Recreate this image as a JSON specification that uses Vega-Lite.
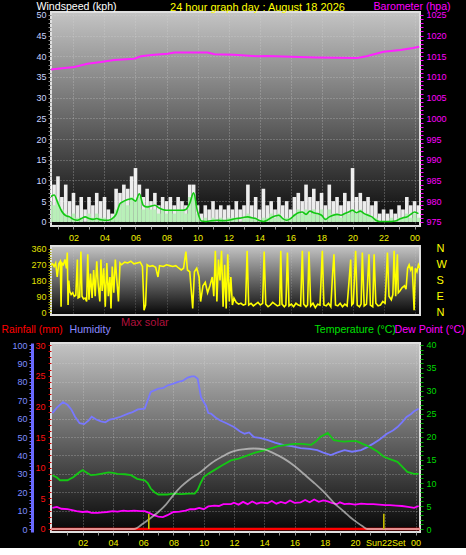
{
"$schema": "https://vega.github.io/schema/vega-lite/v6.json",
"background": "#000000",
"padding": {"left": 0, "top": 0, "right": 0, "bottom": 0},
"config": {
  "font": "Liberation Sans",
  "view": {"fill": {"gradient": "linear", "x1": 0, "y1": 0, "x2": 0, "y2": 1, "stops": [{"offset": 0, "color": "#c4c4c4"}, {"offset": 0.5, "color": "#666666"}, {"offset": 1, "color": "#060606"}]}, "stroke": "#e0e0e0", "strokeWidth": 2},
  "axis": {"labelFont": "Liberation Sans", "labelFontSize": 9, "titleFont": "Liberation Sans", "titleFontWeight": "normal", "titleFontSize": 11, "domain": false, "gridColor": "#d8d8d8", "gridDash": [1, 2], "labelOverlap": false, "labelFlush": false},
  "title": {"font": "Liberation Sans", "fontWeight": "normal"}
},
"datasets": {
  "wind": [
    {"h":0.5,"g":10,"a":5,"l":6},{"h":0.75,"g":9,"a":4,"l":6.5},{"h":1.0,"g":11,"a":5,"l":4.5},{"h":1.25,"g":6,"a":3,"l":2.5},
    {"h":1.5,"g":9,"a":2,"l":1.5},{"h":1.75,"g":5,"a":1,"l":1.2},{"h":2.0,"g":7,"a":2,"l":0.6},{"h":2.25,"g":4,"a":1,"l":0.4},
    {"h":2.5,"g":6,"a":1,"l":0.8},{"h":2.75,"g":3,"a":0,"l":1.2},{"h":3.0,"g":6,"a":2,"l":0.8},{"h":3.25,"g":4,"a":1,"l":0.6},
    {"h":3.5,"g":7,"a":2,"l":0.8},{"h":3.75,"g":5,"a":1,"l":0.5},{"h":4.0,"g":6,"a":1,"l":0.4},{"h":4.25,"g":3,"a":0,"l":0.4},
    {"h":4.5,"g":2,"a":1,"l":0.8},{"h":4.75,"g":8,"a":3,"l":1.8},{"h":5.0,"g":7,"a":4,"l":4.4},{"h":5.25,"g":9,"a":5,"l":5.0},
    {"h":5.5,"g":8,"a":4,"l":5.4},{"h":5.75,"g":11,"a":6,"l":5.6},{"h":6.0,"g":13,"a":5,"l":5.0},{"h":6.25,"g":9,"a":6,"l":6.8},
    {"h":6.5,"g":6,"a":3,"l":4.0},{"h":6.75,"g":8,"a":4,"l":3.6},{"h":7.0,"g":5,"a":3,"l":3.8},{"h":7.25,"g":7,"a":3,"l":4.0},
    {"h":7.5,"g":4,"a":2,"l":3.4},{"h":7.75,"g":6,"a":3,"l":3.0},{"h":8.0,"g":5,"a":2,"l":2.8},{"h":8.25,"g":6,"a":3,"l":2.8},
    {"h":8.5,"g":4,"a":2,"l":2.8},{"h":8.75,"g":6,"a":3,"l":2.8},{"h":9.0,"g":5,"a":3,"l":2.8},{"h":9.25,"g":4,"a":2,"l":3.0},
    {"h":9.5,"g":9,"a":6,"l":4.5},{"h":9.75,"g":9,"a":7,"l":7.0},{"h":10.0,"g":4,"a":2,"l":2.5},{"h":10.25,"g":2,"a":0,"l":0.2},
    {"h":10.5,"g":4,"a":1,"l":0.1},{"h":10.75,"g":3,"a":0,"l":0.2},{"h":11.0,"g":5,"a":1,"l":0.3},{"h":11.25,"g":3,"a":0,"l":0.4},
    {"h":11.5,"g":4,"a":1,"l":0.3},{"h":11.75,"g":3,"a":0,"l":0.3},{"h":12.0,"g":4,"a":1,"l":0.4},{"h":12.25,"g":3,"a":1,"l":0.6},
    {"h":12.5,"g":5,"a":1,"l":0.8},{"h":12.75,"g":3,"a":0,"l":0.9},{"h":13.0,"g":4,"a":1,"l":1.1},{"h":13.25,"g":9,"a":2,"l":1.2},
    {"h":13.5,"g":4,"a":1,"l":1.0},{"h":13.75,"g":6,"a":1,"l":0.8},{"h":14.0,"g":3,"a":0,"l":0.3},{"h":14.25,"g":8,"a":1,"l":0.1},
    {"h":14.5,"g":4,"a":1,"l":0.4},{"h":14.75,"g":5,"a":2,"l":1.0},{"h":15.0,"g":3,"a":1,"l":1.4},{"h":15.25,"g":6,"a":2,"l":1.6},
    {"h":15.5,"g":4,"a":1,"l":0.8},{"h":15.75,"g":5,"a":1,"l":0.4},{"h":16.0,"g":3,"a":1,"l":0.8},{"h":16.25,"g":6,"a":2,"l":1.6},
    {"h":16.5,"g":7,"a":3,"l":2.2},{"h":16.75,"g":5,"a":2,"l":2.4},{"h":17.0,"g":9,"a":3,"l":1.8},{"h":17.25,"g":6,"a":2,"l":2.6},
    {"h":17.5,"g":8,"a":3,"l":2.2},{"h":17.75,"g":5,"a":2,"l":2.0},{"h":18.0,"g":7,"a":3,"l":1.6},{"h":18.25,"g":4,"a":1,"l":0.6},
    {"h":18.5,"g":9,"a":3,"l":1.2},{"h":18.75,"g":5,"a":2,"l":1.6},{"h":19.0,"g":6,"a":2,"l":1.8},{"h":19.25,"g":4,"a":1,"l":1.6},
    {"h":19.5,"g":7,"a":2,"l":2.0},{"h":19.75,"g":5,"a":2,"l":2.4},{"h":20.0,"g":13,"a":3,"l":2.8},{"h":20.25,"g":6,"a":2,"l":2.2},
    {"h":20.5,"g":7,"a":3,"l":2.6},{"h":20.75,"g":5,"a":2,"l":2.0},{"h":21.0,"g":6,"a":2,"l":1.6},{"h":21.25,"g":4,"a":1,"l":1.2},
    {"h":21.5,"g":5,"a":1,"l":0.4},{"h":21.75,"g":2,"a":0,"l":0.1},{"h":22.0,"g":3,"a":0,"l":0.1},{"h":22.25,"g":2,"a":0,"l":0.1},
    {"h":22.5,"g":3,"a":1,"l":0.1},{"h":22.75,"g":2,"a":0,"l":0.2},{"h":23.0,"g":4,"a":1,"l":0.6},{"h":23.25,"g":3,"a":1,"l":1.0},
    {"h":23.5,"g":6,"a":2,"l":1.2},{"h":23.75,"g":4,"a":1,"l":1.8},{"h":24.0,"g":5,"a":2,"l":2.4},{"h":24.25,"g":4,"a":1,"l":2.0}
  ],
  "baro": [
    {"h":0.12,"p":1011.6},{"h":0.98,"p":1012.0},{"h":2.05,"p":1012.4},{"h":2.9,"p":1013.2},{"h":3.77,"p":1013.6},{"h":4.63,"p":1014.1},
    {"h":5.92,"p":1014.4},{"h":6.35,"p":1015.0},{"h":7.2,"p":1015.4},{"h":8.08,"p":1015.6},{"h":8.5,"p":1015.9},{"h":10.65,"p":1015.9},
    {"h":11.09,"p":1015.5},{"h":12.35,"p":1015.4},{"h":13.86,"p":1015.0},{"h":14.5,"p":1015.1},{"h":16.0,"p":1014.9},{"h":17.7,"p":1014.7},
    {"h":20.3,"p":1014.6},{"h":20.9,"p":1015.0},{"h":22.0,"p":1016.1},{"h":23.1,"p":1016.5},{"h":23.9,"p":1017.0},{"h":24.3,"p":1017.3}
  ],
  "dir": [
    {"h":0.55,"d":270},{"h":0.65,"d":275},{"h":0.75,"d":260},{"h":0.85,"d":280},{"h":0.95,"d":200},{"h":1.05,"d":275},{"h":1.15,"d":290},
    {"h":1.2,"d":30},{"h":1.25,"d":280},{"h":1.35,"d":270},{"h":1.45,"d":300},{"h":1.55,"d":250},{"h":1.6,"d":340},{"h":1.65,"d":40},
    {"h":1.7,"d":180},{"h":1.75,"d":120},{"h":1.85,"d":100},{"h":1.95,"d":110},{"h":2.05,"d":90},{"h":2.15,"d":95},{"h":2.25,"d":300},
    {"h":2.3,"d":80},{"h":2.4,"d":85},{"h":2.48,"d":345},{"h":2.55,"d":90},{"h":2.65,"d":75},{"h":2.75,"d":80},{"h":2.85,"d":60},
    {"h":2.92,"d":330},{"h":3.0,"d":70},{"h":3.1,"d":220},{"h":3.2,"d":80},{"h":3.3,"d":240},{"h":3.4,"d":90},{"h":3.5,"d":290},
    {"h":3.6,"d":150},{"h":3.7,"d":60},{"h":3.77,"d":300},{"h":3.85,"d":120},{"h":3.95,"d":250},{"h":4.05,"d":30},{"h":4.15,"d":280},
    {"h":4.25,"d":90},{"h":4.35,"d":200},{"h":4.42,"d":20},{"h":4.5,"d":260},{"h":4.6,"d":110},{"h":4.7,"d":300},{"h":4.8,"d":180},
    {"h":4.9,"d":60},{"h":5.0,"d":280},{"h":5.1,"d":270},{"h":5.3,"d":285},{"h":5.5,"d":280},{"h":5.7,"d":290},{"h":5.9,"d":275},
    {"h":6.1,"d":280},{"h":6.3,"d":285},{"h":6.45,"d":260},{"h":6.55,"d":10},{"h":6.65,"d":40},{"h":6.75,"d":270},{"h":6.9,"d":260},
    {"h":7.1,"d":265},{"h":7.3,"d":255},{"h":7.45,"d":200},{"h":7.55,"d":265},{"h":7.8,"d":260},{"h":8.0,"d":270},{"h":8.2,"d":265},
    {"h":8.4,"d":260},{"h":8.6,"d":265},{"h":8.8,"d":250},{"h":8.95,"d":240},{"h":9.1,"d":250},{"h":9.25,"d":345},{"h":9.35,"d":240},
    {"h":9.5,"d":230},{"h":9.6,"d":120},{"h":9.69,"d":20},{"h":9.8,"d":230},{"h":9.95,"d":250},{"h":10.1,"d":200},{"h":10.2,"d":60},
    {"h":10.35,"d":150},{"h":10.5,"d":170},{"h":10.65,"d":110},{"h":10.8,"d":150},{"h":10.95,"d":200},{"h":11.05,"d":90},{"h":11.15,"d":350},
    {"h":11.25,"d":60},{"h":11.35,"d":300},{"h":11.45,"d":180},{"h":11.55,"d":350},{"h":11.65,"d":30},{"h":11.75,"d":270},{"h":11.85,"d":20},
    {"h":11.95,"d":330},{"h":12.05,"d":60},{"h":12.15,"d":200},{"h":12.25,"d":40},{"h":12.35,"d":80},{"h":12.5,"d":55},{"h":12.65,"d":45},
    {"h":12.8,"d":50},{"h":12.95,"d":40},{"h":13.1,"d":45},{"h":13.2,"d":350},{"h":13.3,"d":40},{"h":13.45,"d":50},{"h":13.6,"d":35},
    {"h":13.75,"d":45},{"h":13.9,"d":55},{"h":14.05,"d":40},{"h":14.2,"d":50},{"h":14.3,"d":345},{"h":14.4,"d":45},{"h":14.55,"d":30},
    {"h":14.7,"d":40},{"h":14.85,"d":55},{"h":15.0,"d":45},{"h":15.15,"d":35},{"h":15.3,"d":40},{"h":15.37,"d":350},{"h":15.45,"d":45},
    {"h":15.6,"d":30},{"h":15.7,"d":40},{"h":15.8,"d":340},{"h":15.9,"d":35},{"h":16.05,"d":45},{"h":16.2,"d":30},{"h":16.35,"d":50},
    {"h":16.5,"d":40},{"h":16.65,"d":35},{"h":16.76,"d":350},{"h":16.85,"d":45},{"h":17.0,"d":30},{"h":17.1,"d":40},{"h":17.19,"d":345},
    {"h":17.3,"d":35},{"h":17.45,"d":50},{"h":17.6,"d":25},{"h":17.75,"d":45},{"h":17.9,"d":40},{"h":18.05,"d":350},{"h":18.15,"d":40},
    {"h":18.3,"d":35},{"h":18.45,"d":50},{"h":18.6,"d":30},{"h":18.7,"d":200},{"h":18.8,"d":330},{"h":18.9,"d":40},{"h":19.05,"d":35},
    {"h":19.2,"d":50},{"h":19.35,"d":30},{"h":19.5,"d":45},{"h":19.65,"d":35},{"h":19.75,"d":150},{"h":19.88,"d":300},{"h":19.95,"d":40},
    {"h":20.05,"d":50},{"h":20.2,"d":350},{"h":20.3,"d":40},{"h":20.45,"d":30},{"h":20.55,"d":45},{"h":20.63,"d":340},{"h":20.75,"d":35},
    {"h":20.9,"d":45},{"h":21.06,"d":330},{"h":21.15,"d":40},{"h":21.3,"d":30},{"h":21.39,"d":330},{"h":21.5,"d":50},{"h":21.65,"d":35},
    {"h":21.8,"d":40},{"h":21.95,"d":60},{"h":22.1,"d":50},{"h":22.25,"d":340},{"h":22.35,"d":90},{"h":22.5,"d":70},{"h":22.6,"d":100},
    {"h":22.68,"d":350},{"h":22.78,"d":90},{"h":22.89,"d":330},{"h":22.95,"d":110},{"h":23.05,"d":120},{"h":23.2,"d":140},{"h":23.35,"d":150},
    {"h":23.45,"d":130},{"h":23.55,"d":250},{"h":23.65,"d":270},{"h":23.75,"d":240},{"h":23.85,"d":260},{"h":23.97,"d":10},{"h":24.05,"d":250},
    {"h":24.15,"d":230},{"h":24.25,"d":270},{"h":24.35,"d":250}
  ],
  "hum": [
    {"h":0.0,"v":63},{"h":0.3,"v":66},{"h":0.7,"v":69},{"h":1.0,"v":67.5},{"h":1.25,"v":65},{"h":1.5,"v":61},{"h":1.8,"v":57.5},
    {"h":2.1,"v":57},{"h":2.4,"v":59},{"h":2.6,"v":61},{"h":2.9,"v":59.5},{"h":3.2,"v":58.5},{"h":3.5,"v":58},{"h":3.8,"v":59.5},
    {"h":4.1,"v":60},{"h":4.5,"v":61},{"h":5.0,"v":62.7},{"h":5.3,"v":63.5},{"h":5.65,"v":65},{"h":6.1,"v":65.4},{"h":6.3,"v":70},
    {"h":6.5,"v":74.5},{"h":7.0,"v":76.3},{"h":7.3,"v":76.5},{"h":7.6,"v":78},{"h":8.0,"v":79},{"h":8.3,"v":80},{"h":8.6,"v":80.5},
    {"h":8.94,"v":82.3},{"h":9.2,"v":83},{"h":9.4,"v":83},{"h":9.6,"v":81.7},{"h":9.82,"v":71.7},{"h":10.0,"v":69},{"h":10.15,"v":67},
    {"h":10.3,"v":63},{"h":10.48,"v":62.7},{"h":10.8,"v":60.5},{"h":11.1,"v":59},{"h":11.5,"v":57.5},{"h":12.0,"v":55.4},{"h":12.4,"v":53},
    {"h":12.7,"v":51.8},{"h":13.0,"v":52.5},{"h":13.3,"v":50},{"h":13.7,"v":49.5},{"h":14.2,"v":48.4},{"h":14.7,"v":47},{"h":15.3,"v":45.6},
    {"h":15.8,"v":45},{"h":16.4,"v":44},{"h":17.0,"v":43.5},{"h":17.5,"v":42.9},{"h":17.9,"v":41.5},{"h":18.4,"v":40.2},{"h":18.8,"v":41.5},
    {"h":19.3,"v":42.9},{"h":19.8,"v":42},{"h":20.4,"v":42.9},{"h":20.8,"v":44.5},{"h":21.2,"v":46.4},{"h":21.6,"v":48.5},{"h":22.1,"v":51.8},
    {"h":22.5,"v":53.5},{"h":22.8,"v":55.4},{"h":23.1,"v":58},{"h":23.4,"v":60.9},{"h":23.7,"v":62.5},{"h":23.9,"v":64},{"h":24.2,"v":65.4}
  ],
  "temp": [
    {"h":0.0,"v":11.7},{"h":0.3,"v":11.2},{"h":0.5,"v":10.6},{"h":1.0,"v":10.6},{"h":1.4,"v":11.3},{"h":1.8,"v":12.4},{"h":2.0,"v":12.8},
    {"h":2.2,"v":12.4},{"h":2.55,"v":11.7},{"h":2.9,"v":11.8},{"h":3.2,"v":12.0},{"h":3.7,"v":12.3},{"h":4.0,"v":12.2},{"h":4.3,"v":12.0},
    {"h":4.8,"v":11.9},{"h":5.2,"v":11.7},{"h":5.6,"v":10.9},{"h":6.1,"v":10.6},{"h":6.3,"v":10.0},{"h":6.5,"v":8.8},{"h":6.75,"v":8.0},
    {"h":7.0,"v":7.5},{"h":7.6,"v":7.5},{"h":8.0,"v":7.7},{"h":8.5,"v":7.6},{"h":9.0,"v":7.7},{"h":9.4,"v":7.7},{"h":9.6,"v":8.5},
    {"h":9.8,"v":10.0},{"h":10.0,"v":11.3},{"h":10.3,"v":12.0},{"h":10.7,"v":12.8},{"h":11.2,"v":13.8},{"h":11.8,"v":14.9},{"h":12.3,"v":15.3},
    {"h":12.9,"v":16.0},{"h":13.4,"v":16.6},{"h":14.0,"v":17.1},{"h":14.5,"v":17.6},{"h":14.9,"v":18.0},{"h":15.5,"v":18.3},{"h":16.0,"v":18.5},
    {"h":16.5,"v":18.5},{"h":17.1,"v":18.3},{"h":17.4,"v":19.0},{"h":17.7,"v":20.0},{"h":18.2,"v":20.9},{"h":18.6,"v":19.3},{"h":19.0,"v":19.1},
    {"h":19.25,"v":19.0},{"h":19.7,"v":19.1},{"h":20.1,"v":19.1},{"h":20.5,"v":18.5},{"h":21.0,"v":17.8},{"h":21.5,"v":16.8},{"h":21.9,"v":15.7},
    {"h":22.3,"v":15.2},{"h":22.8,"v":14.6},{"h":23.1,"v":13.6},{"h":23.45,"v":12.4},{"h":23.9,"v":12.0},{"h":24.2,"v":12.0}
  ],
  "dew": [
    {"h":0.0,"v":4.6},{"h":0.3,"v":4.8},{"h":0.6,"v":4.4},{"h":1.0,"v":4.3},{"h":1.3,"v":4.1},{"h":1.6,"v":3.9},{"h":2.0,"v":3.7},
    {"h":2.3,"v":3.8},{"h":2.6,"v":3.5},{"h":3.0,"v":3.5},{"h":3.3,"v":3.6},{"h":3.6,"v":3.7},{"h":4.0,"v":3.9},{"h":4.3,"v":3.8},
    {"h":4.7,"v":4.0},{"h":5.0,"v":3.9},{"h":5.4,"v":4.0},{"h":5.8,"v":3.9},{"h":6.1,"v":3.9},{"h":6.4,"v":3.5},{"h":6.7,"v":3.0},
    {"h":7.0,"v":2.7},{"h":7.3,"v":2.6},{"h":7.6,"v":3.0},{"h":8.0,"v":3.7},{"h":8.4,"v":3.8},{"h":8.8,"v":4.0},{"h":9.1,"v":4.3},
    {"h":9.4,"v":4.3},{"h":9.7,"v":4.6},{"h":10.0,"v":4.3},{"h":10.3,"v":4.9},{"h":10.7,"v":5.1},{"h":11.0,"v":5.0},{"h":11.3,"v":5.4},
    {"h":11.8,"v":5.4},{"h":12.0,"v":5.7},{"h":12.3,"v":5.3},{"h":12.6,"v":5.9},{"h":12.9,"v":5.4},{"h":13.2,"v":6.0},{"h":13.5,"v":5.5},
    {"h":13.8,"v":5.8},{"h":14.2,"v":5.6},{"h":14.5,"v":6.1},{"h":14.8,"v":5.5},{"h":15.1,"v":5.9},{"h":15.4,"v":5.6},{"h":15.7,"v":6.2},
    {"h":16.0,"v":5.7},{"h":16.4,"v":5.8},{"h":16.7,"v":6.3},{"h":17.0,"v":5.8},{"h":17.3,"v":6.4},{"h":17.6,"v":5.9},{"h":17.9,"v":6.2},
    {"h":18.2,"v":6.0},{"h":18.5,"v":5.6},{"h":18.8,"v":5.4},{"h":19.0,"v":5.8},{"h":19.3,"v":5.4},{"h":19.6,"v":5.5},{"h":20.0,"v":5.3},
    {"h":20.4,"v":5.5},{"h":20.8,"v":5.4},{"h":21.2,"v":5.4},{"h":21.6,"v":5.3},{"h":22.0,"v":5.2},{"h":22.3,"v":5.2},{"h":22.7,"v":5.1},
    {"h":23.1,"v":5.0},{"h":23.5,"v":4.8},{"h":23.9,"v":4.6},{"h":24.2,"v":5.0}
  ],
  "solar": [
    {"h":-0.1,"v":0},{"h":5.4,"v":0},{"h":6.0,"v":1.2},{"h":6.5,"v":2.4},{"h":7.0,"v":3.7},{"h":7.5,"v":5.3},{"h":8.05,"v":7.6},
    {"h":8.5,"v":9.2},{"h":9.0,"v":10.6},{"h":9.8,"v":12.4},{"h":10.5,"v":14.3},{"h":11.2,"v":15.7},{"h":11.8,"v":16.7},{"h":12.6,"v":17.3},
    {"h":13.3,"v":17.5},{"h":14.0,"v":17.3},{"h":14.6,"v":16.5},{"h":15.3,"v":15.3},{"h":16.0,"v":13.7},{"h":16.6,"v":12.0},{"h":17.3,"v":10.0},
    {"h":17.95,"v":8.0},{"h":18.6,"v":5.7},{"h":19.3,"v":3.7},{"h":19.7,"v":2.5},{"h":20.1,"v":1.5},{"h":20.5,"v":0.6},{"h":20.8,"v":0},
    {"h":24.3,"v":0}
  ],
  "rain": [{"h":-0.1,"v":0},{"h":24.3,"v":0}],
  "sun": [{"h":6.37,"v":3.3},{"h":21.9,"v":3.3}]
},
"vconcat": [
  {
    "width": 369, "height": 214,
    "title": {"text": "24 hour graph day : August 18 2026", "color": "#ffff00", "fontSize": 11, "anchor": "middle", "frame": "group", "dx": 22, "dy": 16},
    "encoding": {"x": {"field": "h", "type": "quantitative", "scale": {"domain": [0.55, 24.35], "nice": false, "zero": false},
      "axis": {"values": [1,2,3,4,5,6,7,8,9,10,11,12,13,14,15,16,17,18,19,20,21,22,23,24],
        "labelExpr": "datum.value % 2 == 0 ? (datum.value == 24 ? '00' : (datum.value < 10 ? '0' + datum.value : '' + datum.value)) : ''",
        "labelColor": "#f0f000", "tickColor": "#9a9a9a", "tickSize": 3, "labelPadding": 4, "title": null,
        "grid": true, "gridOpacity": {"condition": {"test": "datum.value % 2 == 0", "value": 0.5}, "value": 0}}}},
    "layer": [
      {"data": {"name": "wind"},
       "mark": {"type": "rule", "color": "#ffffff", "strokeWidth": 3.6, "opacity": 0.92, "clip": true},
       "encoding": {"y": {"field": "g", "type": "quantitative", "scale": {"domain": [-1, 50.7], "nice": false, "zero": false},
         "axis": {"orient": "left", "values": [0,1,2,3,4,5,6,7,8,9,10,11,12,13,14,15,16,17,18,19,20,21,22,23,24,25,26,27,28,29,30,31,32,33,34,35,36,37,38,39,40,41,42,43,44,45,46,47,48,49,50],
           "labelExpr": "datum.value % 5 == 0 ? datum.label : ''", "labelColor": "#c8d4ff", "tickColor": "#8c8c8c", "tickSize": 3, "labelPadding": 2,
           "grid": true, "gridOpacity": {"condition": {"test": "datum.value % 5 == 0 && datum.value > 0", "value": 0.5}, "value": 0},
           "title": "Windspeed (kph)", "titleColor": "#ffffff", "titleFontSize": 10.6, "titleAngle": 0, "titleAlign": "left", "titleBaseline": "alphabetic", "titleX": -15, "titleY": -3}},
         "y2": {"datum": 0}}},
      {"data": {"name": "wind"},
       "mark": {"type": "rule", "color": "#b8f0b8", "strokeWidth": 3.6, "clip": true},
       "encoding": {"y": {"field": "a", "type": "quantitative", "scale": {"domain": [-1, 50.7], "nice": false, "zero": false}, "axis": null}, "y2": {"datum": 0}}},
      {"data": {"name": "wind"},
       "mark": {"type": "line", "color": "#12c812", "strokeWidth": 1.6, "interpolate": "monotone", "clip": true},
       "encoding": {"y": {"field": "l", "type": "quantitative", "scale": {"domain": [-1, 50.7], "nice": false, "zero": false}, "axis": null}}},
      {"data": {"name": "baro"},
       "mark": {"type": "line", "color": "#ff22ff", "strokeWidth": 2, "clip": true},
       "encoding": {
          "y": {"field": "p", "type": "quantitative", "scale": {"domain": [974, 1025.7], "nice": false, "zero": false},
            "axis": {"orient": "right", "format": "d",
              "values": [975,976,977,978,979,980,981,982,983,984,985,986,987,988,989,990,991,992,993,994,995,996,997,998,999,1000,1001,1002,1003,1004,1005,1006,1007,1008,1009,1010,1011,1012,1013,1014,1015,1016,1017,1018,1019,1020,1021,1022,1023,1024,1025],
              "labelExpr": "datum.value % 5 == 0 ? datum.label : ''", "labelColor": "#ff00ff", "tickColor": "#ff00ff", "tickSize": 3, "labelPadding": 3,
              "grid": false, "title": "Barometer (hpa)", "titleColor": "#ff00ff", "titleFontSize": 10.6, "titleAngle": 0, "titleAlign": "left", "titleBaseline": "alphabetic", "titleX": -47, "titleY": -3}}
       }}
    ],
    "resolve": {"scale": {"y": "independent"}, "axis": {"y": "independent"}}
  },
  {
    "vconcat": [
      {
        "width": 369, "height": 69,
        "data": {"name": "dir"},
        "encoding": {"x": {"field": "h", "type": "quantitative", "scale": {"domain": [0.55, 24.35], "nice": false, "zero": false},
          "axis": {"values": [2,4,6,8,10,12,14,16,18,20,22,24], "labels": false, "ticks": false, "title": null, "grid": true, "gridOpacity": 0.35}}},
        "layer": [
          {"mark": {"type": "line", "color": "#ffff00", "strokeWidth": 1.6, "clip": true},
           "encoding": {"y": {"field": "d", "type": "quantitative", "scale": {"domain": [-17, 377], "nice": false, "zero": false},
             "axis": {"orient": "left", "values": [0,15,30,45,60,75,90,105,120,135,150,165,180,195,210,225,240,255,270,285,300,315,330,345,360],
               "labelExpr": "datum.value % 90 == 0 ? datum.label : ''", "labelColor": "#e0e000", "tickColor": "#a0a000", "tickSize": 3, "labelPadding": 2,
               "title": null, "grid": false}}}},
          {"mark": {"type": "line", "strokeOpacity": 0, "color": "#000000"},
           "encoding": {"y": {"field": "d", "type": "quantitative", "scale": {"domain": [-17, 377], "nice": false, "zero": false},
             "axis": {"orient": "right", "values": [0,90,180,270,360],
               "labelExpr": "datum.value == 90 ? 'E' : (datum.value == 180 ? 'S' : (datum.value == 270 ? 'W' : 'N'))",
               "ticks": false, "labelColor": "#ffff00", "labelFontSize": 11, "labelPadding": 16, "labelAlign": "left", "title": null, "grid": false}}}}
        ],
        "resolve": {"scale": {"y": "independent"}, "axis": {"y": "independent"}}
      },
      {
        "width": 369, "height": 189,
        "title": {"text": "Max solar", "color": "#b0103c", "fontSize": 11, "anchor": "start", "frame": "group", "dx": 70, "dy": 8},
        "encoding": {"x": {"field": "h", "type": "quantitative", "scale": {"domain": [-0.09, 24.29], "nice": false, "zero": false},
          "axis": {"values": [1,2,3,4,5,6,7,8,9,10,11,12,13,14,15,16,17,18,19,20,21,22,23,24],
            "labelExpr": "datum.value % 2 == 0 ? (datum.value == 24 ? '00' : (datum.value == 22 ? 'Sun22Set' : (datum.value < 10 ? '0' + datum.value : '' + datum.value))) : ''",
            "labelColor": "#f0f000", "tickColor": "#9a9a9a", "tickSize": 3, "labelPadding": 3, "title": null,
            "grid": true, "gridOpacity": {"condition": {"test": "datum.value % 2 == 0", "value": 0.5}, "value": 0}}}},
        "layer": [
          {"data": {"name": "hum"}, "mark": {"type": "line", "color": "#7878ff", "strokeWidth": 1.8, "clip": true},
           "encoding": {"y": {"field": "v", "type": "quantitative", "scale": {"domain": [-1.63, 101.09], "nice": false, "zero": false},
             "axis": {"orient": "left", "offset": 19, "values": [0,2,4,6,8,10,12,14,16,18,20,22,24,26,28,30,32,34,36,38,40,42,44,46,48,50,52,54,56,58,60,62,64,66,68,70,72,74,76,78,80,82,84,86,88,90,92,94,96,98,100],
               "labelExpr": "datum.value % 10 == 0 ? datum.label : ''", "labelColor": "#7f8cff", "tickColor": "#6a6aff", "tickSize": 3, "labelPadding": 2,
               "domain": true, "domainColor": "#6a6aff", "domainWidth": 3, "grid": false,
               "title": "Humidity", "titleColor": "#8a8aff", "titleFontSize": 10.6, "titleAngle": 0, "titleAlign": "left", "titleBaseline": "alphabetic", "titleX": 37, "titleY": -11}}}},
          {"data": {"name": "rain"}, "mark": {"type": "line", "color": "#ff0000", "strokeWidth": 2.5, "clip": true},
           "encoding": {"y": {"field": "v", "type": "quantitative", "scale": {"domain": [-0.49, 30.33], "nice": false, "zero": false},
             "axis": {"orient": "left", "values": [0,1,2,3,4,5,6,7,8,9,10,11,12,13,14,15,16,17,18,19,20,21,22,23,24,25,26,27,28,29,30],
               "labelExpr": "datum.value % 5 == 0 ? datum.label : ''", "labelColor": "#ff1010", "tickColor": "#d00000", "tickSize": 3, "labelPadding": 3, "grid": false,
               "title": "Rainfall (mm)", "titleColor": "#ff0000", "titleFontSize": 10.3, "titleAngle": 0, "titleAlign": "left", "titleBaseline": "alphabetic", "titleX": -50, "titleY": -11}}}},
          {"data": {"name": "temp"}, "mark": {"type": "line", "color": "#14c814", "strokeWidth": 1.8, "clip": true},
           "encoding": {"y": {"field": "v", "type": "quantitative", "scale": {"domain": [-0.65, 40.43], "nice": false, "zero": false},
             "axis": {"orient": "right", "values": [0,1,2,3,4,5,6,7,8,9,10,11,12,13,14,15,16,17,18,19,20,21,22,23,24,25,26,27,28,29,30,31,32,33,34,35,36,37,38,39,40],
               "labelExpr": "datum.value % 5 == 0 ? datum.label : ''", "labelColor": "#00d800", "tickColor": "#00b000", "tickSize": 3, "labelPadding": 3, "grid": false,
               "title": "Temperature (°C)", "titleColor": "#00e000", "titleFontSize": 10.6, "titleAngle": 0, "titleAlign": "left", "titleBaseline": "alphabetic", "titleX": -106, "titleY": -11}}}},
          {"data": {"name": "dew"}, "mark": {"type": "line", "color": "#ff00ff", "strokeWidth": 1.8, "clip": true},
           "encoding": {"y": {"field": "v", "type": "quantitative", "scale": {"domain": [-0.65, 40.43], "nice": false, "zero": false},
             "axis": {"orient": "right", "values": [4,8,12,16,20,24,28,32,36,40], "labels": false, "ticks": false,
               "grid": true, "gridOpacity": 0.5,
               "title": "Dew Point (°C)", "titleColor": "#ff00ff", "titleFontSize": 10.6, "titleAngle": 0, "titleAlign": "left", "titleBaseline": "alphabetic", "titleX": -26, "titleY": -11}}}},
          {"data": {"name": "solar"}, "mark": {"type": "line", "color": "#dadada", "strokeWidth": 1.8, "opacity": 0.65, "interpolate": "monotone", "clip": true},
           "encoding": {"y": {"field": "v", "type": "quantitative", "scale": {"domain": [-0.65, 40.43], "nice": false, "zero": false}, "axis": null}}},
          {"data": {"name": "sun"}, "mark": {"type": "rule", "color": "#c8c000", "strokeWidth": 1.6},
           "encoding": {"y": {"field": "v", "type": "quantitative", "scale": {"domain": [-0.65, 40.43], "nice": false, "zero": false}, "axis": null}, "y2": {"datum": 0}}}
        ],
        "resolve": {"scale": {"y": "independent"}, "axis": {"y": "independent"}}
      }
    ],
    "spacing": 28,
    "bounds": "flush"
  }
],
"spacing": 20,
"bounds": "flush"
}
